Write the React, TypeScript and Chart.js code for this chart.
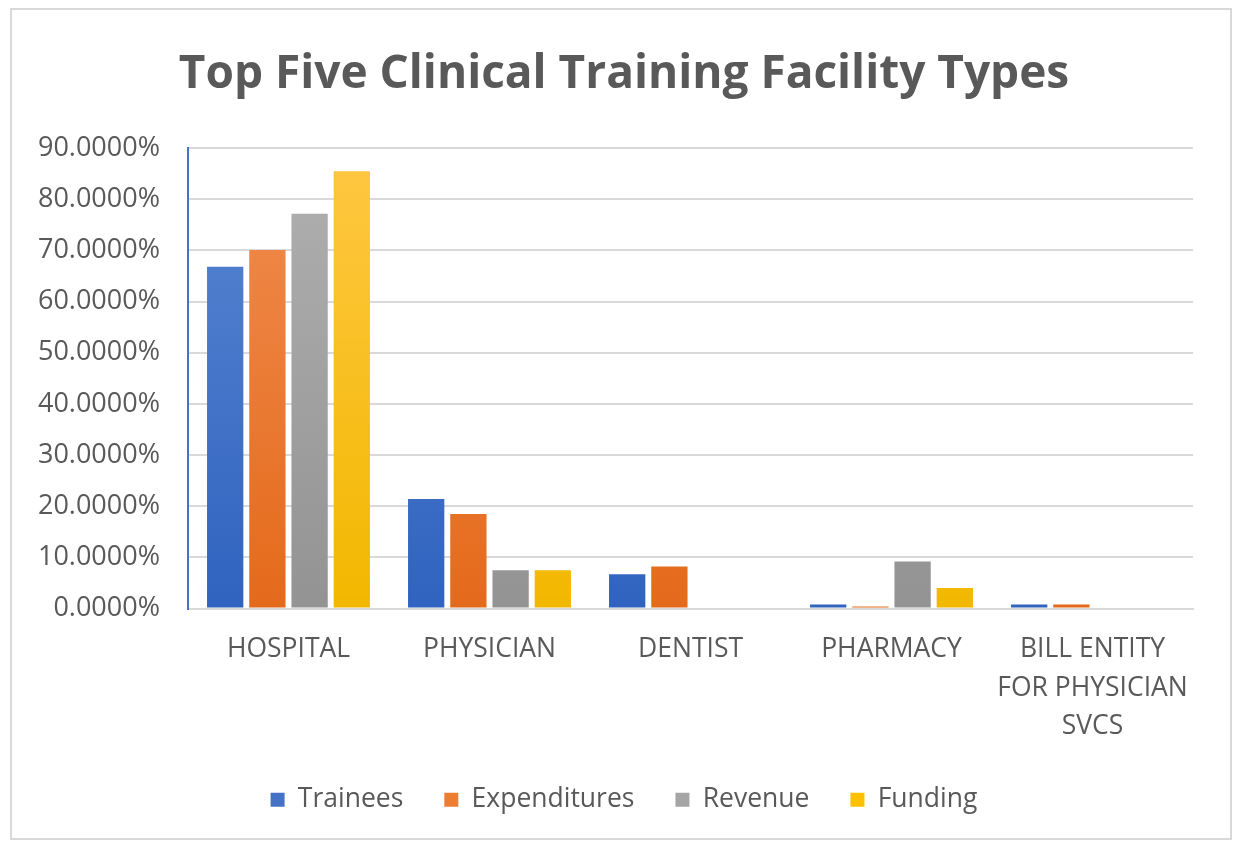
import React, { useEffect, useRef } from "react";
import { Chart, registerables } from "chart.js";

Chart.register(...registerables);

const categories: (string | string[])[] = [
  "HOSPITAL",
  "PHYSICIAN",
  "DENTIST",
  "PHARMACY",
  ["BILL ENTITY", "FOR PHYSICIAN", "SVCS"],
];
const trainees = [66.8, 21.4, 6.7, 0.8, 0.8];
const expenditures = [70.1, 18.5, 8.2, 0.4, 0.8];
const revenue = [77.2, 7.5, 0, 9.2, 0];
const funding = [85.5, 7.5, 0, 4.0, 0];
const seriesNames = ["Trainees", "Expenditures", "Revenue", "Funding"];
const yTicks = [0, 10, 20, 30, 40, 50, 60, 70, 80, 90];

const palette: [string, string, string][] = [
  ["#5b87d3", "#2f63bf", "#4472C4"],
  ["#f18d50", "#e46a1b", "#ED7D31"],
  ["#b0b0b0", "#939393", "#A5A5A5"],
  ["#ffc743", "#f2b800", "#FFC000"],
];

const FONT = "'Open Sans', 'Noto Sans', sans-serif";
const PAD_LEFT = 6;

export default function App() {
  const ref = useRef<HTMLCanvasElement>(null);
  useEffect(() => {
    if (!ref.current) return;
    const values = [trainees, expenditures, revenue, funding];
    const chart = new Chart(ref.current, {
      type: "bar",
      data: {
        labels: categories,
        datasets: values.map((v, i) => ({
          label: seriesNames[i],
          data: v,
          yAxisID: "y",
          backgroundColor: (ctx: any) => {
            const c = ctx.chart;
            const area = c.chartArea;
            if (!area || ctx.type !== "data") return palette[i][2];
            const g = c.ctx.createLinearGradient(0, area.top, 0, area.bottom);
            g.addColorStop(0, palette[i][0]);
            g.addColorStop(1, palette[i][1]);
            return g;
          },
          borderWidth: 0,
          categoryPercentage: 0.84,
          barPercentage: 0.86,
        })),
      },
      options: {
        animation: false,
        responsive: false,
        maintainAspectRatio: false,
        layout: { padding: { left: PAD_LEFT, right: 0, top: 0, bottom: 15 } },
        plugins: {
          title: {
            display: true,
            text: "Top Five Clinical Training Facility Types",
            color: "#595959",
            font: { family: FONT, size: 46, weight: "bold", lineHeight: 1.2 },
            padding: { top: 37, bottom: 46 },
          },
          legend: {
            position: "bottom",
            labels: {
              color: "#595959",
              font: { family: FONT, size: 26.5 },
              boxWidth: 14,
              boxHeight: 14,
              padding: 41,
              generateLabels: () =>
                seriesNames.map((n, i) => ({
                  text: n,
                  fillStyle: palette[i][2],
                  strokeStyle: palette[i][2],
                  lineWidth: 0,
                  fontColor: "#595959",
                  datasetIndex: i,
                  hidden: false,
                })),
            },
          },
          tooltip: { enabled: false },
        },
        scales: {
          x: {
            grid: { display: false, drawTicks: false },
            border: { display: true, color: "#d9d9d9", width: 2 },
            afterFit: (s: any) => {
              s.height = 137;
            },
            ticks: {
              color: "#595959",
              font: { family: FONT, size: 26.5, lineHeight: 1.45 },
              padding: 22,
              maxRotation: 0,
              autoSkip: false,
            },
          },
          y: {
            min: 0,
            max: 90,
            afterFit: (s: any) => {
              s.width = 176 - PAD_LEFT;
            },
            afterBuildTicks: (s: any) => {
              s.ticks = yTicks.map((v) => ({ value: v }));
            },
            grid: { color: "#d9d9d9", lineWidth: 2, drawTicks: false },
            border: { display: true, color: "#4472C4", width: 2 },
            ticks: {
              color: "#595959",
              font: { family: FONT, size: 27 },
              padding: 28,
              callback: (v: any) => Number(v).toFixed(4) + "%",
            },
          },
          spacer: {
            type: "linear",
            position: "right",
            display: true,
            grid: { display: false, drawOnChartArea: false, drawTicks: false },
            border: { display: false },
            ticks: { display: false },
            afterFit: (s: any) => {
              s.width = 37;
            },
          },
        },
      },
    });
    return () => chart.destroy();
  }, []);
  return (
    <div
      style={{
        position: "fixed",
        left: 10,
        top: 8,
        width: 1218,
        height: 828,
        border: "2px solid #d9d9d9",
        background: "#fff",
      }}
    >
      <canvas ref={ref} width={1218} height={828} style={{ display: "block" }} />
    </div>
  );
}
